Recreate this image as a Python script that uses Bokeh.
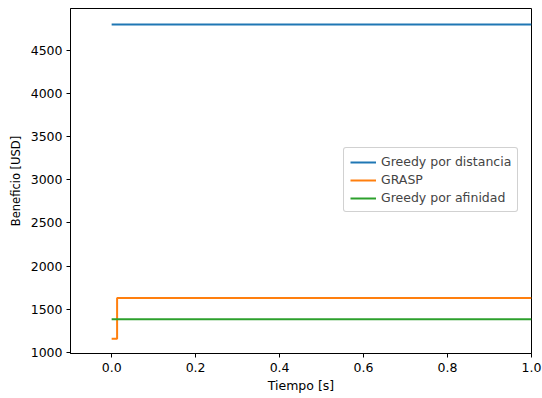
from bokeh.plotting import figure
from bokeh.models import FixedTicker, Legend, LegendItem, NumeralTickFormatter, Range1d
from bokeh.embed import file_html
from bokeh.resources import INLINE

# Data
t_dist = [0.0, 1.0]
b_dist = [4800, 4800]
t_grasp = [0.0, 0.013, 1.0]
b_grasp = [1160, 1630, 1630]
t_afin = [0.0, 1.0]
b_afin = [1385, 1385]
labels = ["Greedy por distancia", "GRASP", "Greedy por afinidad"]
colors = ["#1f77b4", "#ff7f0e", "#2ca02c"]
x_ticks = [0.0, 0.2, 0.4, 0.6, 0.8, 1.0]
y_ticks = [1000, 1500, 2000, 2500, 3000, 3500, 4000, 4500]

FONT = "DejaVu Sans"
FS = "12.5px"

p = figure(width=542, height=398, output_backend="svg", toolbar_location=None,
           x_range=Range1d(-0.098, 1.0), y_range=Range1d(988, 4985),
           min_border_left=70, min_border_right=11, min_border_top=8, min_border_bottom=45)
p.background_fill_color = "white"
p.border_fill_color = "white"
p.outline_line_color = "black"
p.outline_line_width = 1
p.grid.visible = False

r1 = p.line(t_dist, b_dist, line_color=colors[0], line_width=2)
r2 = p.step(t_grasp, b_grasp, mode="after", line_color=colors[1], line_width=2)
r3 = p.line(t_afin, b_afin, line_color=colors[2], line_width=2)

for ax in (p.xaxis[0], p.yaxis[0]):
    ax.axis_line_color = "black"
    ax.major_tick_line_color = "black"
    ax.major_tick_out = 4
    ax.major_tick_in = 0
    ax.minor_tick_out = 0
    ax.minor_tick_in = 0
    ax.major_label_text_font = FONT
    ax.major_label_text_font_size = FS
    ax.major_label_text_color = "black"
    ax.axis_label_text_font = FONT
    ax.axis_label_text_font_size = FS
    ax.axis_label_text_font_style = "normal"
    ax.axis_label_text_color = "black"

p.xaxis[0].ticker = FixedTicker(ticks=x_ticks)
p.xaxis[0].formatter = NumeralTickFormatter(format="0.0")
p.xaxis[0].axis_label = "Tiempo [s]"
p.xaxis[0].axis_label_standoff = 3
p.yaxis[0].ticker = FixedTicker(ticks=y_ticks)
p.yaxis[0].axis_label = "Beneficio [USD]"
p.yaxis[0].axis_label_text_font_size = "11.5px"
p.yaxis[0].axis_label_standoff = 5
p.yaxis[0].major_label_standoff = 4

legend = Legend(items=[LegendItem(label=labels[0], renderers=[r1]),
                       LegendItem(label=labels[1], renderers=[r2]),
                       LegendItem(label=labels[2], renderers=[r3])],
                location=(273, 141))
legend.label_text_font = FONT
legend.label_text_font_size = FS
legend.glyph_width = 26
legend.glyph_height = 14
legend.label_height = 14
legend.spacing = 3
legend.padding = 6
legend.margin = 0
legend.border_line_color = "#cccccc"
legend.border_line_alpha = 0.9
legend.border_radius = 3
legend.background_fill_alpha = 0.8
p.add_layout(legend, "center")

open("out.html", "w").write(file_html(p, INLINE))
